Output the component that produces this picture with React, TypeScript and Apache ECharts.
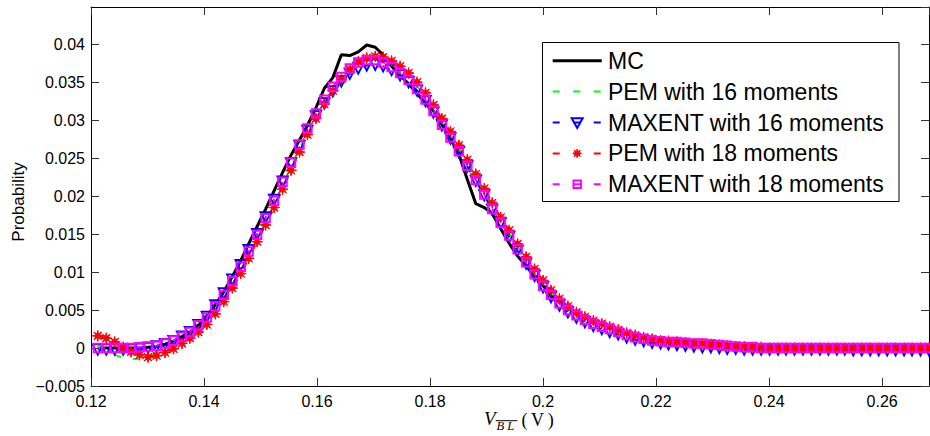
import React, { useEffect, useRef } from 'react';
import * as echarts from 'echarts';

// x grid (V_BL, volts)
const vBL = [0.1212,0.1227,0.1242,0.1257,0.1271,0.1286,0.1301,0.1316,0.1331,0.1346,
0.1361,0.1375,0.1390,0.1405,0.1420,0.1435,0.1450,0.1465,0.1479,0.1494,
0.1509,0.1524,0.1539,0.1554,0.1569,0.1583,0.1598,0.1613,0.1628,0.1643,
0.1658,0.1673,0.1688,0.1703,0.1717,0.1732,0.1747,0.1762,0.1777,0.1792,
0.1806,0.1821,0.1836,0.1851,0.1866,0.1881,0.1896,0.1910,0.1925,0.1940,
0.1955,0.1970,0.1985,0.2000,0.2014,0.2029,0.2044,0.2059,0.2074,0.2089,
0.2104,0.2118,0.2133,0.2148,0.2163,0.2178,0.2193,0.2208,0.2222,0.2237,
0.2252,0.2267,0.2282,0.2297,0.2312,0.2326,0.2341,0.2356,0.2371,0.2386,
0.2401,0.2416,0.2430,0.2445,0.2460,0.2475,0.2490,0.2505,0.2520,0.2534,
0.2549,0.2564,0.2579,0.2594,0.2609,0.2624,0.2639,0.2653,0.2668,0.2683];

const mc = [0.0000,0.0000,0.0000,0.0000,0.0000,0.0000,0.0001,0.0002,0.0005,0.0009,
0.0015,0.0021,0.0030,0.0042,0.0057,0.0074,0.0094,0.0115,0.0137,0.0160,
0.0183,0.0207,0.0231,0.0254,0.0274,0.0293,0.0316,0.0342,0.0356,0.0386,
0.0385,0.0390,0.0399,0.0396,0.0386,0.0371,0.0359,0.0348,0.0335,0.0322,
0.0312,0.0294,0.0276,0.0255,0.0222,0.0190,0.0185,0.0177,0.0157,0.0138,
0.0121,0.0108,0.0095,0.0082,0.0070,0.0060,0.0052,0.0046,0.0040,0.0035,
0.0031,0.0027,0.0023,0.0020,0.0017,0.0015,0.0013,0.0011,0.0010,0.0009,
0.0008,0.0007,0.0006,0.0005,0.0005,0.0004,0.0004,0.0003,0.0003,0.0003,
0.0002,0.0002,0.0002,0.0002,0.0002,0.0001,0.0001,0.0001,0.0001,0.0001,
0.0001,0.0001,0.0001,0.0001,0.0001,0.0000,0.0000,0.0000,0.0000,0.0000];

const pem16 = [0.0003,-0.0003,-0.0009,-0.0013,-0.0015,-0.0014,-0.0011,-0.0006,-0.0001,0.0005,
0.0011,0.0017,0.0025,0.0035,0.0049,0.0065,0.0083,0.0102,0.0122,0.0144,
0.0166,0.0189,0.0214,0.0239,0.0263,0.0285,0.0305,0.0324,0.0341,0.0355,
0.0367,0.0376,0.0380,0.0381,0.0379,0.0374,0.0366,0.0357,0.0345,0.0331,
0.0316,0.0298,0.0281,0.0263,0.0244,0.0225,0.0206,0.0187,0.0169,0.0151,
0.0134,0.0117,0.0101,0.0086,0.0073,0.0062,0.0053,0.0045,0.0039,0.0034,
0.0030,0.0026,0.0022,0.0018,0.0015,0.0013,0.0011,0.0009,0.0008,0.0008,
0.0007,0.0006,0.0006,0.0005,0.0004,0.0003,0.0002,0.0001,0.0001,0.0000,
0.0000,0.0000,0.0000,0.0000,0.0000,0.0000,0.0000,0.0000,0.0000,0.0000,
0.0000,0.0000,0.0000,0.0000,0.0000,0.0000,0.0000,0.0000,0.0000,0.0000];

const maxent16 = [-0.0002,-0.0002,-0.0002,-0.0002,-0.0002,-0.0001,0.0000,0.0002,0.0005,0.0009,
0.0015,0.0021,0.0030,0.0041,0.0056,0.0072,0.0090,0.0109,0.0129,0.0150,
0.0172,0.0195,0.0219,0.0243,0.0266,0.0286,0.0305,0.0322,0.0338,0.0351,
0.0361,0.0368,0.0372,0.0373,0.0371,0.0366,0.0359,0.0350,0.0339,0.0325,
0.0310,0.0293,0.0276,0.0258,0.0239,0.0220,0.0201,0.0182,0.0164,0.0146,
0.0128,0.0111,0.0095,0.0080,0.0067,0.0056,0.0047,0.0040,0.0034,0.0029,
0.0025,0.0021,0.0018,0.0014,0.0011,0.0009,0.0007,0.0006,0.0005,0.0004,
0.0003,0.0002,0.0001,0.0001,0.0000,-0.0001,-0.0001,-0.0002,-0.0002,-0.0002,
-0.0002,-0.0002,-0.0002,-0.0002,-0.0002,-0.0002,-0.0002,-0.0002,-0.0002,-0.0002,
-0.0003,-0.0003,-0.0003,-0.0003,-0.0003,-0.0003,-0.0003,-0.0003,-0.0003,-0.0003];

const pem18 = [0.0016,0.0013,0.0008,0.0001,-0.0005,-0.0009,-0.0012,-0.0010,-0.0006,-0.0001,
0.0006,0.0013,0.0021,0.0031,0.0045,0.0061,0.0079,0.0098,0.0118,0.0140,
0.0162,0.0185,0.0209,0.0234,0.0258,0.0281,0.0302,0.0321,0.0339,0.0354,
0.0367,0.0377,0.0382,0.0384,0.0383,0.0378,0.0371,0.0362,0.0350,0.0336,
0.0320,0.0302,0.0285,0.0267,0.0248,0.0229,0.0210,0.0191,0.0172,0.0155,
0.0137,0.0120,0.0104,0.0089,0.0076,0.0065,0.0055,0.0047,0.0041,0.0036,
0.0032,0.0028,0.0024,0.0020,0.0017,0.0014,0.0012,0.0010,0.0009,0.0008,
0.0007,0.0006,0.0006,0.0005,0.0004,0.0003,0.0002,0.0002,0.0001,0.0001,
0.0000,0.0000,0.0000,0.0000,0.0000,0.0000,0.0000,0.0000,0.0000,0.0000,
0.0000,0.0000,0.0000,0.0000,0.0000,0.0000,0.0000,0.0000,0.0000,0.0000];

const maxent18 = [0.0000,0.0000,0.0000,0.0000,0.0000,0.0001,0.0002,0.0003,0.0006,0.0010,
0.0015,0.0021,0.0030,0.0040,0.0055,0.0070,0.0088,0.0107,0.0127,0.0149,
0.0171,0.0194,0.0219,0.0244,0.0268,0.0289,0.0309,0.0327,0.0344,0.0357,
0.0368,0.0376,0.0379,0.0379,0.0376,0.0370,0.0362,0.0353,0.0341,0.0327,
0.0312,0.0294,0.0277,0.0259,0.0240,0.0221,0.0202,0.0183,0.0165,0.0148,
0.0130,0.0113,0.0097,0.0082,0.0070,0.0059,0.0050,0.0043,0.0037,0.0032,
0.0028,0.0025,0.0021,0.0017,0.0014,0.0012,0.0010,0.0009,0.0008,0.0008,
0.0007,0.0006,0.0006,0.0005,0.0004,0.0003,0.0002,0.0001,0.0001,0.0000,
0.0000,0.0000,0.0000,0.0000,0.0000,0.0000,0.0000,0.0000,0.0000,0.0000,
0.0000,0.0000,0.0000,0.0000,0.0000,0.0000,0.0000,0.0000,0.0000,0.0000];

const seriesNames = ['MC', 'PEM with 16 moments', 'MAXENT with 16 moments', 'PEM with 18 moments', 'MAXENT with 18 moments'];
const seriesColors = ['#000000', '#00ff00', '#0000ff', '#ff0000', '#ff00ff'];
const xRange = [0.12, 0.2683];
const xStep = 0.02;
const yRange = [-0.005, 0.0449];
const yStep = 0.005;
const yTitle = 'Probability';

const SANS = '"Liberation Sans", Arial, Helvetica, sans-serif';
const SERIF = '"Liberation Serif", "DejaVu Serif", serif';

const ASTERISK = 'path://M20,10L13.23,11.34L17.07,17.07L11.34,13.23L10,20L8.66,13.23L2.93,17.07L6.77,11.34L0,10L6.77,8.66L2.93,2.93L8.66,6.77L10,0L11.34,6.77L17.07,2.93L13.23,8.66Z';

function starPoints(cx: number, cy: number, r: number, ri: number) {
  const pts: number[][] = [];
  for (let k = 0; k < 16; k++) {
    const a = (k * Math.PI) / 8;
    const rr = k % 2 === 0 ? r : ri;
    pts.push([cx + rr * Math.cos(a), cy + rr * Math.sin(a)]);
  }
  return pts;
}

const fmt = (v: number) => String(parseFloat(v.toFixed(4))).replace('-', '\u2212');

export default function App() {
  const ref = useRef<HTMLDivElement>(null);
  useEffect(() => {
    if (!ref.current) return;
    const chart = echarts.init(ref.current, null, { renderer: 'svg' });
    const pair = (ys: number[]) => vBL.map((x, i) => [x, ys[i]]);
    const dash = [7, 12];

    const axisCommon = {
      type: 'value' as const,
      axisLine: { show: true, onZero: false, lineStyle: { color: '#000', width: 1 } },
      axisTick: { show: true, inside: true, length: 8, lineStyle: { color: '#333', width: 1 } },
      splitLine: { show: false },
    };

    // legend rows
    const rowY = [60.7, 91.6, 122.5, 153.4, 184.3];
    const lx1 = 552.7, lx2 = 601.7, mx = 577.2;
    const legendChildren: any[] = [
      { type: 'rect', shape: { x: 542.5, y: 42.5, width: 356.5, height: 159 }, style: { fill: '#fff', stroke: '#000', lineWidth: 1 } },
    ];
    seriesNames.forEach((name, k) => {
      const y = rowY[k];
      legendChildren.push({
        type: 'line',
        shape: { x1: lx1, y1: y, x2: lx2, y2: y },
        style: k === 0
          ? { stroke: '#000', lineWidth: 3 }
          : { stroke: seriesColors[k], lineWidth: 2, lineDash: [7, 13.5] },
      });
      if (k === 2) {
        legendChildren.push({ type: 'polygon', shape: { points: [[mx - 5.5, y - 4.3], [mx + 5.5, y - 4.3], [mx, y + 5.5]] }, style: { fill: 'none', stroke: '#0000ff', lineWidth: 2 } });
      } else if (k === 3) {
        legendChildren.push({ type: 'polygon', shape: { points: starPoints(mx, y, 4.4, 1.9) }, style: { fill: '#ff0000', stroke: '#ff0000', lineWidth: 1 } });
      } else if (k === 4) {
        legendChildren.push({ type: 'rect', shape: { x: mx - 3.7, y: y - 3.7, width: 7.4, height: 7.4 }, style: { fill: 'none', stroke: '#ff00ff', lineWidth: 2 } });
      }
      legendChildren.push({
        type: 'text', x: 608, y: y,
        style: { text: name, fontSize: 23, fontFamily: SANS, fill: '#000', align: 'left', verticalAlign: 'middle' },
      });
    });

    const option: any = {
      animation: false,
      backgroundColor: '#fff',
      grid: { left: 91, right: 1, top: 7, bottom: 50, containLabel: false, outerBoundsMode: 'none' },
      xAxis: [
        {
          ...axisCommon, position: 'bottom', min: xRange[0], max: xRange[1], interval: xStep,
          axisLabel: { show: true, margin: 7, fontSize: 16, fontFamily: SANS, color: '#000', formatter: fmt, showMaxLabel: false, showMinLabel: true },
        },
        {
          ...axisCommon, position: 'top', min: xRange[0], max: xRange[1], interval: xStep,
          axisLabel: { show: false },
        },
      ],
      yAxis: [
        {
          ...axisCommon, position: 'left', min: yRange[0], max: yRange[1], interval: yStep,
          axisLabel: { show: true, margin: 6, fontSize: 16, fontFamily: SANS, color: '#000', formatter: fmt, showMaxLabel: false, showMinLabel: true },
        },
        {
          ...axisCommon, position: 'right', min: yRange[0], max: yRange[1], interval: yStep,
          axisLabel: { show: false },
        },
      ],
      series: [
        {
          name: seriesNames[0], type: 'line', data: pair(mc), symbol: 'none', silent: true,
          lineStyle: { color: seriesColors[0], width: 3 },
        },
        {
          name: seriesNames[1], type: 'line', data: pair(pem16), symbol: 'none', silent: true,
          lineStyle: { color: seriesColors[1], width: 2, type: dash },
        },
        {
          name: seriesNames[2], type: 'line', data: pair(maxent16), symbol: 'triangle', symbolRotate: 180, symbolSize: 10.5,
          showAllSymbol: true, silent: true,
          itemStyle: { color: 'rgba(0,0,0,0)', borderColor: seriesColors[2], borderWidth: 1.8 },
          lineStyle: { color: seriesColors[2], width: 2, type: dash },
        },
        {
          name: seriesNames[3], type: 'line', data: pair(pem18), symbol: ASTERISK, symbolSize: 11,
          showAllSymbol: true, silent: true,
          itemStyle: { color: seriesColors[3], borderColor: seriesColors[3], borderWidth: 1 },
          lineStyle: { color: seriesColors[3], width: 2, type: dash },
        },
        {
          name: seriesNames[4], type: 'line', data: pair(maxent18), symbol: 'rect', symbolSize: 8.4,
          showAllSymbol: true, silent: true,
          itemStyle: { color: 'rgba(0,0,0,0)', borderColor: seriesColors[4], borderWidth: 2 },
          lineStyle: { color: seriesColors[4], width: 2, type: dash },
        },
      ],
      graphic: [
        { type: 'group', z: 100, children: legendChildren },
        {
          type: 'text', x: 18.5, y: 202, rotation: Math.PI / 2, z: 100,
          style: { text: yTitle, fontSize: 17, fontFamily: SANS, fill: '#000', align: 'center', verticalAlign: 'middle' },
        },
        {
          type: 'group', z: 100,
          children: [
            { type: 'text', x: 484, y: 418.5, style: { text: 'V', fontSize: 19, fontStyle: 'italic', fontFamily: SERIF, fill: '#000', align: 'left', verticalAlign: 'middle' } },
            { type: 'text', x: 496.5, y: 426, style: { text: 'B L', fontSize: 12.5, fontStyle: 'italic', fontFamily: SERIF, fill: '#000', align: 'left', verticalAlign: 'middle' } },
            { type: 'line', shape: { x1: 495.7, y1: 420.7, x2: 517.3, y2: 420.7 }, style: { stroke: '#000', lineWidth: 1 } },
            { type: 'text', x: 521.5, y: 420, style: { text: '(\u2009V\u2009)', fontSize: 18, fontFamily: SERIF, fill: '#000', align: 'left', verticalAlign: 'middle' } },
          ],
        },
      ],
    };
    chart.setOption(option);
    return () => chart.dispose();
  }, []);
  return <div ref={ref} style={{ position: 'fixed', left: 0, top: 0, width: 930, height: 436, background: '#fff' }} />;
}
